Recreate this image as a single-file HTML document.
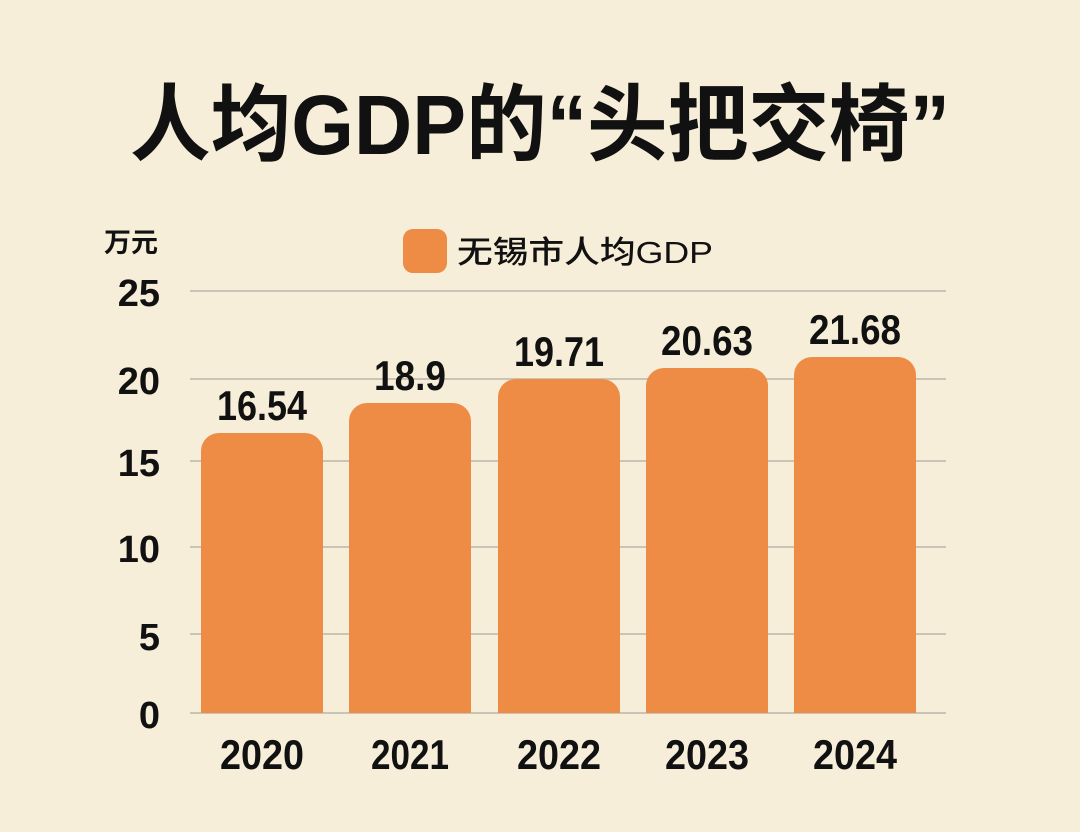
<!DOCTYPE html>
<html><head><meta charset="utf-8"><style>
html,body{margin:0;padding:0;background:#f6eed8;}
svg{display:block}
.n{font-family:"Liberation Sans Narrow","Liberation Sans",sans-serif;font-weight:bold;fill:#111;}
.c{font-family:"Liberation Sans","Noto Sans CJK SC",sans-serif;font-weight:bold;fill:#111;}
</style></head><body>
<svg width="1080" height="832" viewBox="0 0 1080 832" xmlns="http://www.w3.org/2000/svg">
<rect width="1080" height="832" fill="#f6eed8"/>
<text class="c" x="130" y="154" font-size="84" textLength="820" lengthAdjust="spacingAndGlyphs">人均GDP的“头把交椅”</text>
<text class="c" x="104" y="252" font-size="27">万元</text>
<rect x="403" y="229" width="44" height="44" rx="10" fill="#ee8c45"/>
<text class="c" x="457" y="263" font-size="31" style="font-weight:500" textLength="256" lengthAdjust="spacingAndGlyphs">无锡市人均GDP</text>
<g stroke="#c9c4b6" stroke-width="2">
<line x1="190" y1="291" x2="946" y2="291"/>
<line x1="190" y1="379" x2="946" y2="379"/>
<line x1="190" y1="461" x2="946" y2="461"/>
<line x1="190" y1="547" x2="946" y2="547"/>
<line x1="190" y1="634" x2="946" y2="634"/>
<line x1="190" y1="713" x2="946" y2="713"/>
</g>
<g class="n" font-size="38" text-anchor="end">
<text x="160" y="306">25</text>
<text x="160" y="394">20</text>
<text x="160" y="476">15</text>
<text x="160" y="562">10</text>
<text x="160" y="650">5</text>
<text x="160" y="728">0</text>
</g>
<g fill="#ee8c45">
<path d="M201,713 V451 a18,18 0 0 1 18,-18 H305 a18,18 0 0 1 18,18 V713Z"/>
<path d="M349,713 V421 a18,18 0 0 1 18,-18 H453 a18,18 0 0 1 18,18 V713Z"/>
<path d="M498,713 V397 a18,18 0 0 1 18,-18 H602 a18,18 0 0 1 18,18 V713Z"/>
<path d="M646,713 V386 a18,18 0 0 1 18,-18 H750 a18,18 0 0 1 18,18 V713Z"/>
<path d="M794,713 V375 a18,18 0 0 1 18,-18 H898 a18,18 0 0 1 18,18 V713Z"/>
</g>
<g class="n" font-size="42" text-anchor="middle" lengthAdjust="spacingAndGlyphs">
<text x="262" y="420" textLength="90" lengthAdjust="spacingAndGlyphs">16.54</text>
<text x="410" y="390" textLength="72" lengthAdjust="spacingAndGlyphs">18.9</text>
<text x="559" y="366" textLength="90" lengthAdjust="spacingAndGlyphs">19.71</text>
<text x="707" y="355" textLength="92" lengthAdjust="spacingAndGlyphs">20.63</text>
<text x="855" y="344" textLength="92" lengthAdjust="spacingAndGlyphs">21.68</text>
</g>
<g class="n" font-size="42" text-anchor="middle">
<text x="262" y="769" textLength="84" lengthAdjust="spacingAndGlyphs">2020</text>
<text x="410" y="769" textLength="78" lengthAdjust="spacingAndGlyphs">2021</text>
<text x="559" y="769" textLength="84" lengthAdjust="spacingAndGlyphs">2022</text>
<text x="707" y="769" textLength="84" lengthAdjust="spacingAndGlyphs">2023</text>
<text x="855" y="769" textLength="84" lengthAdjust="spacingAndGlyphs">2024</text>
</g>
</svg>
</body></html>
